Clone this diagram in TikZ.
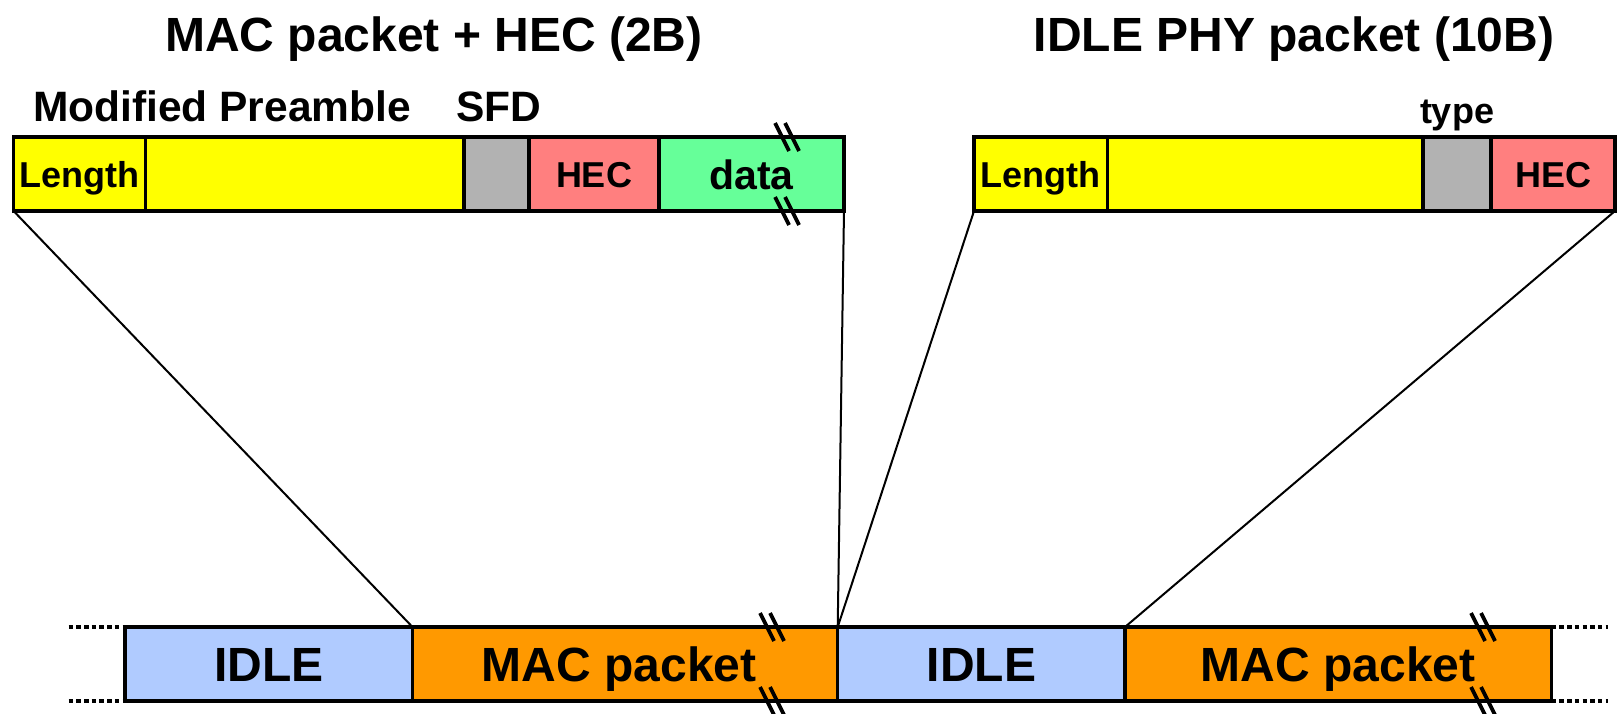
\documentclass[tikz,border=0pt]{standalone}
\usepackage{fontspec}
\setmainfont{Liberation Sans}
\definecolor{preyellow}{HTML}{FFFF00}
\definecolor{sfdgray}{HTML}{B2B2B2}
\definecolor{hecred}{HTML}{FF7F7F}
\definecolor{datagreen}{HTML}{66FF99}
\definecolor{idleblue}{HTML}{B0CBFF}
\definecolor{macorange}{HTML}{FF9900}
\begin{document}
\begin{tikzpicture}[x=1pt,y=-1pt,
  seg/.style={draw=black, line width=3.3pt, anchor=north west,
    minimum height=74pt, inner sep=0pt, outer sep=0pt},
  smalltxt/.style={font=\bfseries\fontsize{36}{40}\selectfont,
    text height=26pt, text depth=0pt},
  midtxt/.style={font=\bfseries\fontsize{41}{45}\selectfont,
    text height=30pt, text depth=0pt},
  bigtxt/.style={font=\bfseries\fontsize{48}{52}\selectfont,
    text height=34pt, text depth=0pt},
  title/.style={font=\bfseries\fontsize{48}{52}\selectfont, anchor=base, inner sep=0pt},
  caption/.style={font=\bfseries\fontsize{42.5}{46}\selectfont, anchor=base, inner sep=0pt},
  link/.style={line width=2pt},
  trail/.style={line width=3.5pt, dash pattern=on 4.5pt off 3.2pt},
  brkline/.style={line width=3.8pt}]
\useasboundingbox (0,0) rectangle (1617,713);

% section breaks: two parallel slanted strokes across a bar edge
\newcommand\breakmark[2]{%
  \draw[brkline] (#1-5-7,#2-14) -- (#1-5+7,#2+14);
  \draw[brkline] (#1+5-7,#2-14) -- (#1+5+7,#2+14);}

% titles
\node[title] (t1) at (434,51.5) {MAC packet + HEC (2B)};
\node[title] (t2) at (1294,51.5) {IDLE PHY packet (10B)};

% MAC packet with HEC
\node[seg, fill=preyellow, minimum width=132.1pt, smalltxt] (len1) at (13.6,137) {Length};
\node[seg, fill=preyellow, minimum width=318.3pt] (pre1) at (145.7,137) {};
\node[seg, fill=sfdgray, minimum width=65pt] (sfd1) at (464,137) {};
\node[seg, fill=hecred, minimum width=130pt, smalltxt] (hec1) at (529,137) {HEC};
\node[seg, fill=datagreen, minimum width=185pt, midtxt] (data1) at (659,137) {data};
\node[caption] (lpre) at (222,121) {Modified Preamble};
\node[caption] (lsfd) at (499,121) {SFD};

% IDLE PHY packet
\node[seg, fill=preyellow, minimum width=133.5pt, smalltxt] (len2) at (974,137) {Length};
\node[seg, fill=preyellow, minimum width=315.5pt] (pre2) at (1107.5,137) {};
\node[seg, fill=sfdgray, minimum width=68pt] (type2) at (1423,137) {};
\node[seg, fill=hecred, minimum width=124pt, smalltxt] (hec2) at (1491,137) {HEC};
\node[font=\bfseries\fontsize{36}{40}\selectfont, anchor=base, inner sep=0pt] (ltype) at (1457,123) {type};

% transmitted stream
\node[seg, fill=idleblue, minimum width=287.5pt, bigtxt] (idle1) at (125,627) {IDLE};
\node[seg, fill=macorange, minimum width=425.2pt, bigtxt] (mac1) at (412.5,627) {MAC packet\hspace*{12pt}};
\node[seg, fill=idleblue, minimum width=287.3pt, bigtxt] (idle2) at (837.7,627) {IDLE};
\node[seg, fill=macorange, minimum width=426.7pt, bigtxt] (mac2) at (1125,627) {MAC packet};

% stream continues on both sides
\coordinate (lt) at (68.6,627);
\coordinate (lb) at (68.6,701);
\coordinate (rt) at (1608,627);
\coordinate (rb) at (1608,701);
\draw[trail] (lt) -- (idle1.north west);
\draw[trail] (lb) -- (idle1.south west);
\draw[trail] (mac2.north east) -- (rt);
\draw[trail] (mac2.south east) -- (rb);

% zoom lines
\draw[link] (len1.south west) -- (mac1.north west);
\draw[link] (data1.south east) -- (idle2.north west);
\draw[link] (len2.south west) -- (idle2.north west);
\draw[link] (hec2.south east) -- (mac2.north west);

% breaks
\breakmark{787}{137}
\breakmark{787}{211}
\breakmark{772}{627}
\breakmark{772}{701}
\breakmark{1483}{627}
\breakmark{1483}{701}
\end{tikzpicture}
\end{document}
